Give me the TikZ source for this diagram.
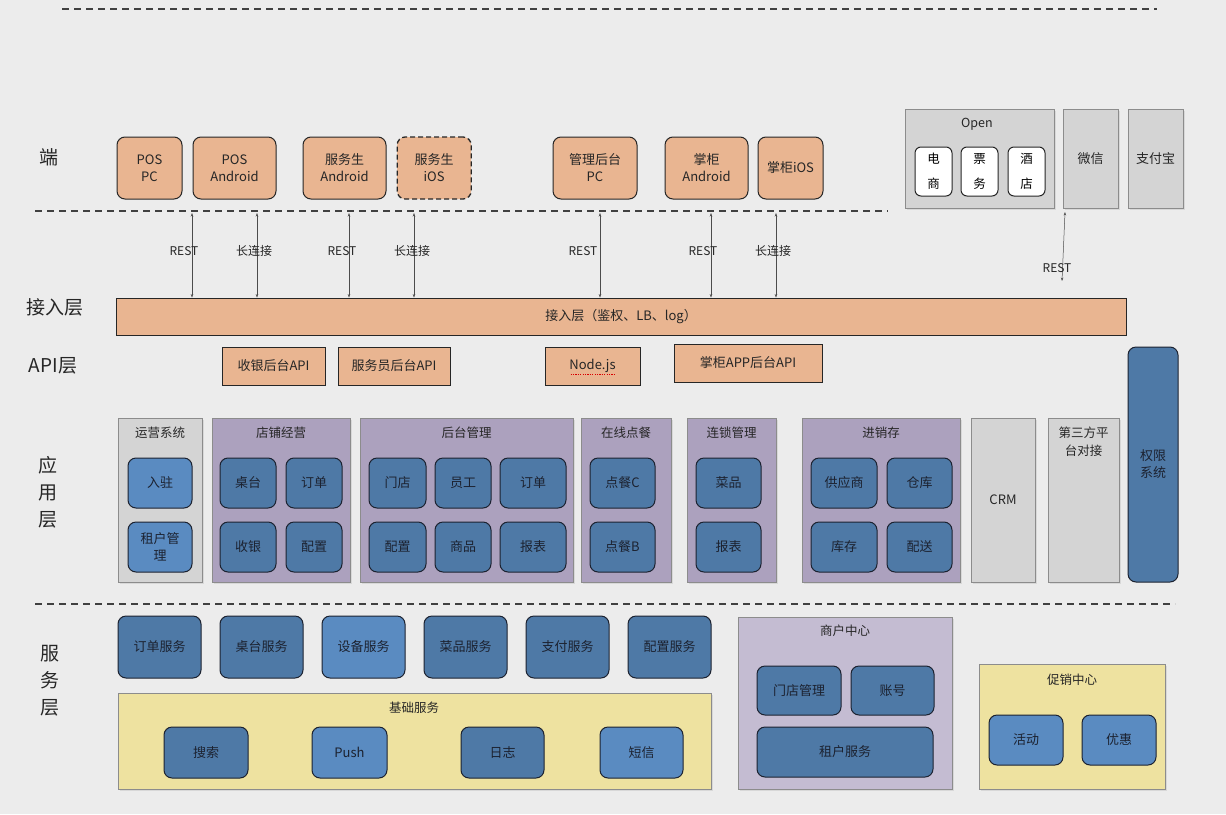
\documentclass[tikz,border=0pt]{standalone}
\usepackage{fontspec}
\setmainfont{Noto Sans CJK SC}
\usetikzlibrary{positioning,calc,arrows.meta,shadows}
\definecolor{bgcol}{RGB}{236,236,236}
\definecolor{orangebox}{RGB}{233,181,145}
\definecolor{purplebox}{RGB}{172,161,190}
\definecolor{lilacbox}{RGB}{196,188,210}
\definecolor{bluebox}{RGB}{78,121,166}
\definecolor{lightblue}{RGB}{90,139,193}
\definecolor{graybox}{RGB}{212,212,212}
\definecolor{yellowbox}{RGB}{238,226,160}
\definecolor{inkcol}{RGB}{28,34,48}
\tikzset{
  client/.style={draw=black!85, fill=orangebox, rounded corners=8pt, line width=1pt,
    align=center, minimum height=62pt, text=black!85, font=\fontsize{13}{17}\selectfont},
  api/.style={draw=black!85, fill=orangebox, line width=0.9pt, minimum height=38pt,
    text=black!85, font=\fontsize{13}{16}\selectfont},
  panel/.style={draw=black!45, line width=0.6pt, text=black!85, align=center,
    font=\fontsize{13}{17}\selectfont,
    drop shadow={opacity=0.18, shadow xshift=1.5pt, shadow yshift=-1.5pt}},
  purplepanel/.style={panel, fill=purplebox},
  graypanel/.style={panel, fill=graybox},
  yellowpanel/.style={panel, fill=yellowbox},
  module/.style={draw=inkcol, fill=bluebox, rounded corners=8pt, line width=1pt,
    align=center, text=inkcol, font=\fontsize{13}{17}\selectfont},
  lightmodule/.style={module, fill=lightblue},
  openitem/.style={draw=black!85, fill=white, rounded corners=6pt, line width=1pt,
    minimum width=37pt, minimum height=49pt, align=center, font=\fontsize{12.5}{25}\selectfont},
  paneltitle/.style={text=black!85, align=center, font=\fontsize{12.5}{18}\selectfont},
  layerlabel/.style={text=black!85, align=center, font=\fontsize{19}{27}\selectfont},
  protolabel/.style={text=black!85, font=\fontsize{12}{14}\selectfont},
  sepline/.style={black!75, line width=1.2pt, dash pattern=on 7pt off 5pt},
  dashclient/.style={client, line width=1.3pt, dash pattern=on 5pt off 3pt},
  link/.style={black!70, line width=0.5pt, {Stealth[length=3.5pt,width=2.5pt]}-{Stealth[length=3.5pt,width=2.5pt]}}
}
\begin{document}
\begin{tikzpicture}[x=1pt,y=-1pt]
  \fill[bgcol] (0,0) rectangle (1226,814);
  \useasboundingbox (0,0) rectangle (1226,814);

  \draw[sepline] (62,9) -- (1157,9);
  \draw[sepline] (35,211) -- (888,211);
  \draw[sepline] (35,604) -- (1175,604);

  \node[layerlabel] (lEnd) at (49,157) {端};
  \node[layerlabel] (lAccess) at (55,307) {接入层};
  \node[layerlabel] (lApi) at (53,366) {API层};
  \node[layerlabel] (lApp) at (48,492) {应\\用\\层};
  \node[layerlabel] (lSrv) at (50,681) {服\\务\\层};

  \node[client, minimum width=65pt] (posPC) at (149.5,168) {POS\\PC};
  \node[client, minimum width=83pt, right=10pt of posPC] (posAndroid) {POS\\Android};
  \node[client, minimum width=83pt] (waiterAndroid) at (344.5,168) {服务生\\Android};
  \node[dashclient, minimum width=74pt, right=10pt of waiterAndroid] (waiterIOS) {服务生\\iOS};
  \node[client, minimum width=84pt] (adminPC) at (595,168) {管理后台\\PC};
  \node[client, minimum width=83pt] (bossAndroid) at (706.5,168) {掌柜\\Android};
  \node[client, minimum width=65pt, right=9pt of bossAndroid] (bossIOS) {掌柜iOS};

  \node[graypanel, minimum width=149pt, minimum height=99pt] (open) at (979.5,158.5) {};
  \node[paneltitle] (openT) at (977,124) {Open};
  \node[openitem] (ecom) at (933.5,171.5) {电\\商};
  \node[openitem] (ticket) at (979.5,171.5) {票\\务};
  \node[openitem] (hotel) at (1026.5,171.5) {酒\\店};
  \node[graypanel, minimum width=55pt, minimum height=99pt] (wechat) at (1090.5,158.5) {微信};
  \node[graypanel, minimum width=55pt, minimum height=99pt] (alipay) at (1155.5,158.5) {支付宝};

  \node[api, minimum width=1010pt, minimum height=37pt] (access) at (621,316.5) {接入层（鉴权、LB、log）};

  \foreach \x/\n in {192/a,257/b,349/c,414/d,600/e,711/f,776/g}{
    \coordinate (top\n) at (\x,213);
    \draw[link] (top\n) -- (top\n |- access.north);
  }
  \node[protolabel] (pa) at (184,251) {REST};
  \node[protolabel] (pb) at (254,251) {长连接};
  \node[protolabel] (pc) at (342,251) {REST};
  \node[protolabel] (pd) at (412,251) {长连接};
  \node[protolabel] (pe) at (583,251) {REST};
  \node[protolabel] (pf) at (703,251) {REST};
  \node[protolabel] (pg) at (773,251) {长连接};
  \coordinate (wxTop) at (1065,212);
  \coordinate (wxEnd) at (1062,281);
  \draw[link] (wxTop) -- (wxEnd);
  \node[protolabel] (pw) at (1057,268) {REST};

  \node[api, minimum width=103pt] (apiCash) at (273.5,366) {收银后台API};
  \node[api, minimum width=112pt] (apiWaiter) at (394,366) {服务员后台API};
  \node[api, minimum width=95pt] (apiNode) at (592.5,366) {Node.js};
  \draw[red!85!black, line width=0.9pt, dash pattern=on 1.2pt off 1.2pt]
    ($(apiNode.center)+(-22,8)$) -- ($(apiNode.center)+(22,8)$);
  \node[api, minimum width=148pt] (apiBoss) at (748,363) {掌柜APP后台API};

  \node[module, minimum width=50pt, minimum height=235pt] (perm) at (1153,464.5) {权限\\系统};

  \node[graypanel, minimum width=84pt, minimum height=164pt] (ops) at (160,500) {};
  \node[paneltitle] (opsT) at (160,433) {运营系统};
  \node[lightmodule, minimum width=64pt, minimum height=50pt] (settle) at (160,483) {入驻};
  \node[lightmodule, minimum width=64pt, minimum height=50pt, below=13pt of settle] (tenantMgr) {租户管\\理};

  \node[purplepanel, minimum width=138pt, minimum height=164pt] (shop) at (281,500) {};
  \node[paneltitle] (shopT) at (281,433) {店铺经营};
  \node[module, minimum width=56pt, minimum height=50pt] (desk) at (248,483) {桌台};
  \node[module, minimum width=56pt, minimum height=50pt, right=9pt of desk] (order) {订单};
  \node[module, minimum width=56pt, minimum height=50pt, below=13pt of desk] (cashier) {收银};
  \node[module, minimum width=56pt, minimum height=50pt, below=13pt of order] (config) {配置};

  \node[purplepanel, minimum width=213pt, minimum height=164pt] (back) at (466.5,500) {};
  \node[paneltitle] (backT) at (466.5,433) {后台管理};
  \node[module, minimum width=57pt, minimum height=50pt] (store) at (397.5,483) {门店};
  \node[module, minimum width=56pt, minimum height=50pt, right=8pt of store] (staff) {员工};
  \node[module, minimum width=66pt, minimum height=50pt, right=8pt of staff] (backOrder) {订单};
  \node[module, minimum width=57pt, minimum height=50pt, below=13pt of store] (backConfig) {配置};
  \node[module, minimum width=56pt, minimum height=50pt, below=13pt of staff] (goods) {商品};
  \node[module, minimum width=66pt, minimum height=50pt, below=13pt of backOrder] (backReport) {报表};

  \node[purplepanel, minimum width=90pt, minimum height=164pt] (online) at (626,500) {};
  \node[paneltitle] (onlineT) at (626,433) {在线点餐};
  \node[module, minimum width=65pt, minimum height=50pt] (orderC) at (622.5,483) {点餐C};
  \node[module, minimum width=65pt, minimum height=50pt, below=13pt of orderC] (orderB) {点餐B};

  \node[purplepanel, minimum width=89pt, minimum height=164pt] (chain) at (731.5,500) {};
  \node[paneltitle] (chainT) at (731.5,433) {连锁管理};
  \node[module, minimum width=65pt, minimum height=50pt] (dish) at (728.5,483) {菜品};
  \node[module, minimum width=65pt, minimum height=50pt, below=13pt of dish] (chainReport) {报表};

  \node[purplepanel, minimum width=158pt, minimum height=164pt] (inv) at (881,500) {};
  \node[paneltitle] (invT) at (881,433) {进销存};
  \node[module, minimum width=66pt, minimum height=50pt] (supplier) at (844,483) {供应商};
  \node[module, minimum width=65pt, minimum height=50pt, right=9pt of supplier] (warehouse) {仓库};
  \node[module, minimum width=66pt, minimum height=50pt, below=13pt of supplier] (stock) {库存};
  \node[module, minimum width=65pt, minimum height=50pt, below=13pt of warehouse] (delivery) {配送};

  \node[graypanel, minimum width=64pt, minimum height=164pt] (crm) at (1003,500) {CRM};
  \node[graypanel, minimum width=71pt, minimum height=164pt] (third) at (1083.5,500) {};
  \node[paneltitle] (thirdT) at (1083.5,442) {第三方平\\台对接};

  \node[module, minimum width=83pt, minimum height=62pt] (sOrder) at (159.5,647) {订单服务};
  \node[module, minimum width=83pt, minimum height=62pt, right=18pt of sOrder] (sDesk) {桌台服务};
  \node[lightmodule, minimum width=83pt, minimum height=62pt, right=18pt of sDesk] (sDevice) {设备服务};
  \node[module, minimum width=83pt, minimum height=62pt, right=18pt of sDevice] (sDish) {菜品服务};
  \node[module, minimum width=83pt, minimum height=62pt, right=18pt of sDish] (sPay) {支付服务};
  \node[module, minimum width=83pt, minimum height=62pt, right=18pt of sPay] (sConfig) {配置服务};

  \node[yellowpanel, minimum width=593pt, minimum height=96pt] (base) at (414.5,741) {};
  \node[paneltitle] (baseT) at (414,708) {基础服务};
  \node[module, minimum width=84pt, minimum height=51pt] (search) at (206,752.5) {搜索};
  \node[lightmodule, minimum width=75pt, minimum height=51pt] (push) at (349.5,752.5) {Push};
  \node[module, minimum width=83pt, minimum height=51pt] (logs) at (502.5,752.5) {日志};
  \node[lightmodule, minimum width=83pt, minimum height=51pt] (sms) at (641.5,752.5) {短信};

  \node[panel, fill=lilacbox, minimum width=214pt, minimum height=172pt] (merchant) at (845,703) {};
  \node[paneltitle] (merchantT) at (845,631) {商户中心};
  \node[module, minimum width=84pt, minimum height=49pt] (storeMgr) at (799,690.5) {门店管理};
  \node[module, minimum width=83pt, minimum height=49pt, right=9pt of storeMgr] (account) {账号};
  \node[module, minimum width=176pt, minimum height=50pt] (tenantSrv) at (845,752) {租户服务};

  \node[yellowpanel, minimum width=186pt, minimum height=125pt] (promo) at (1072,726.5) {};
  \node[paneltitle] (promoT) at (1072,680) {促销中心};
  \node[lightmodule, minimum width=74pt, minimum height=50pt] (activity) at (1026,740) {活动};
  \node[lightmodule, minimum width=74pt, minimum height=50pt] (discount) at (1119,740) {优惠};
\end{tikzpicture}
\end{document}
